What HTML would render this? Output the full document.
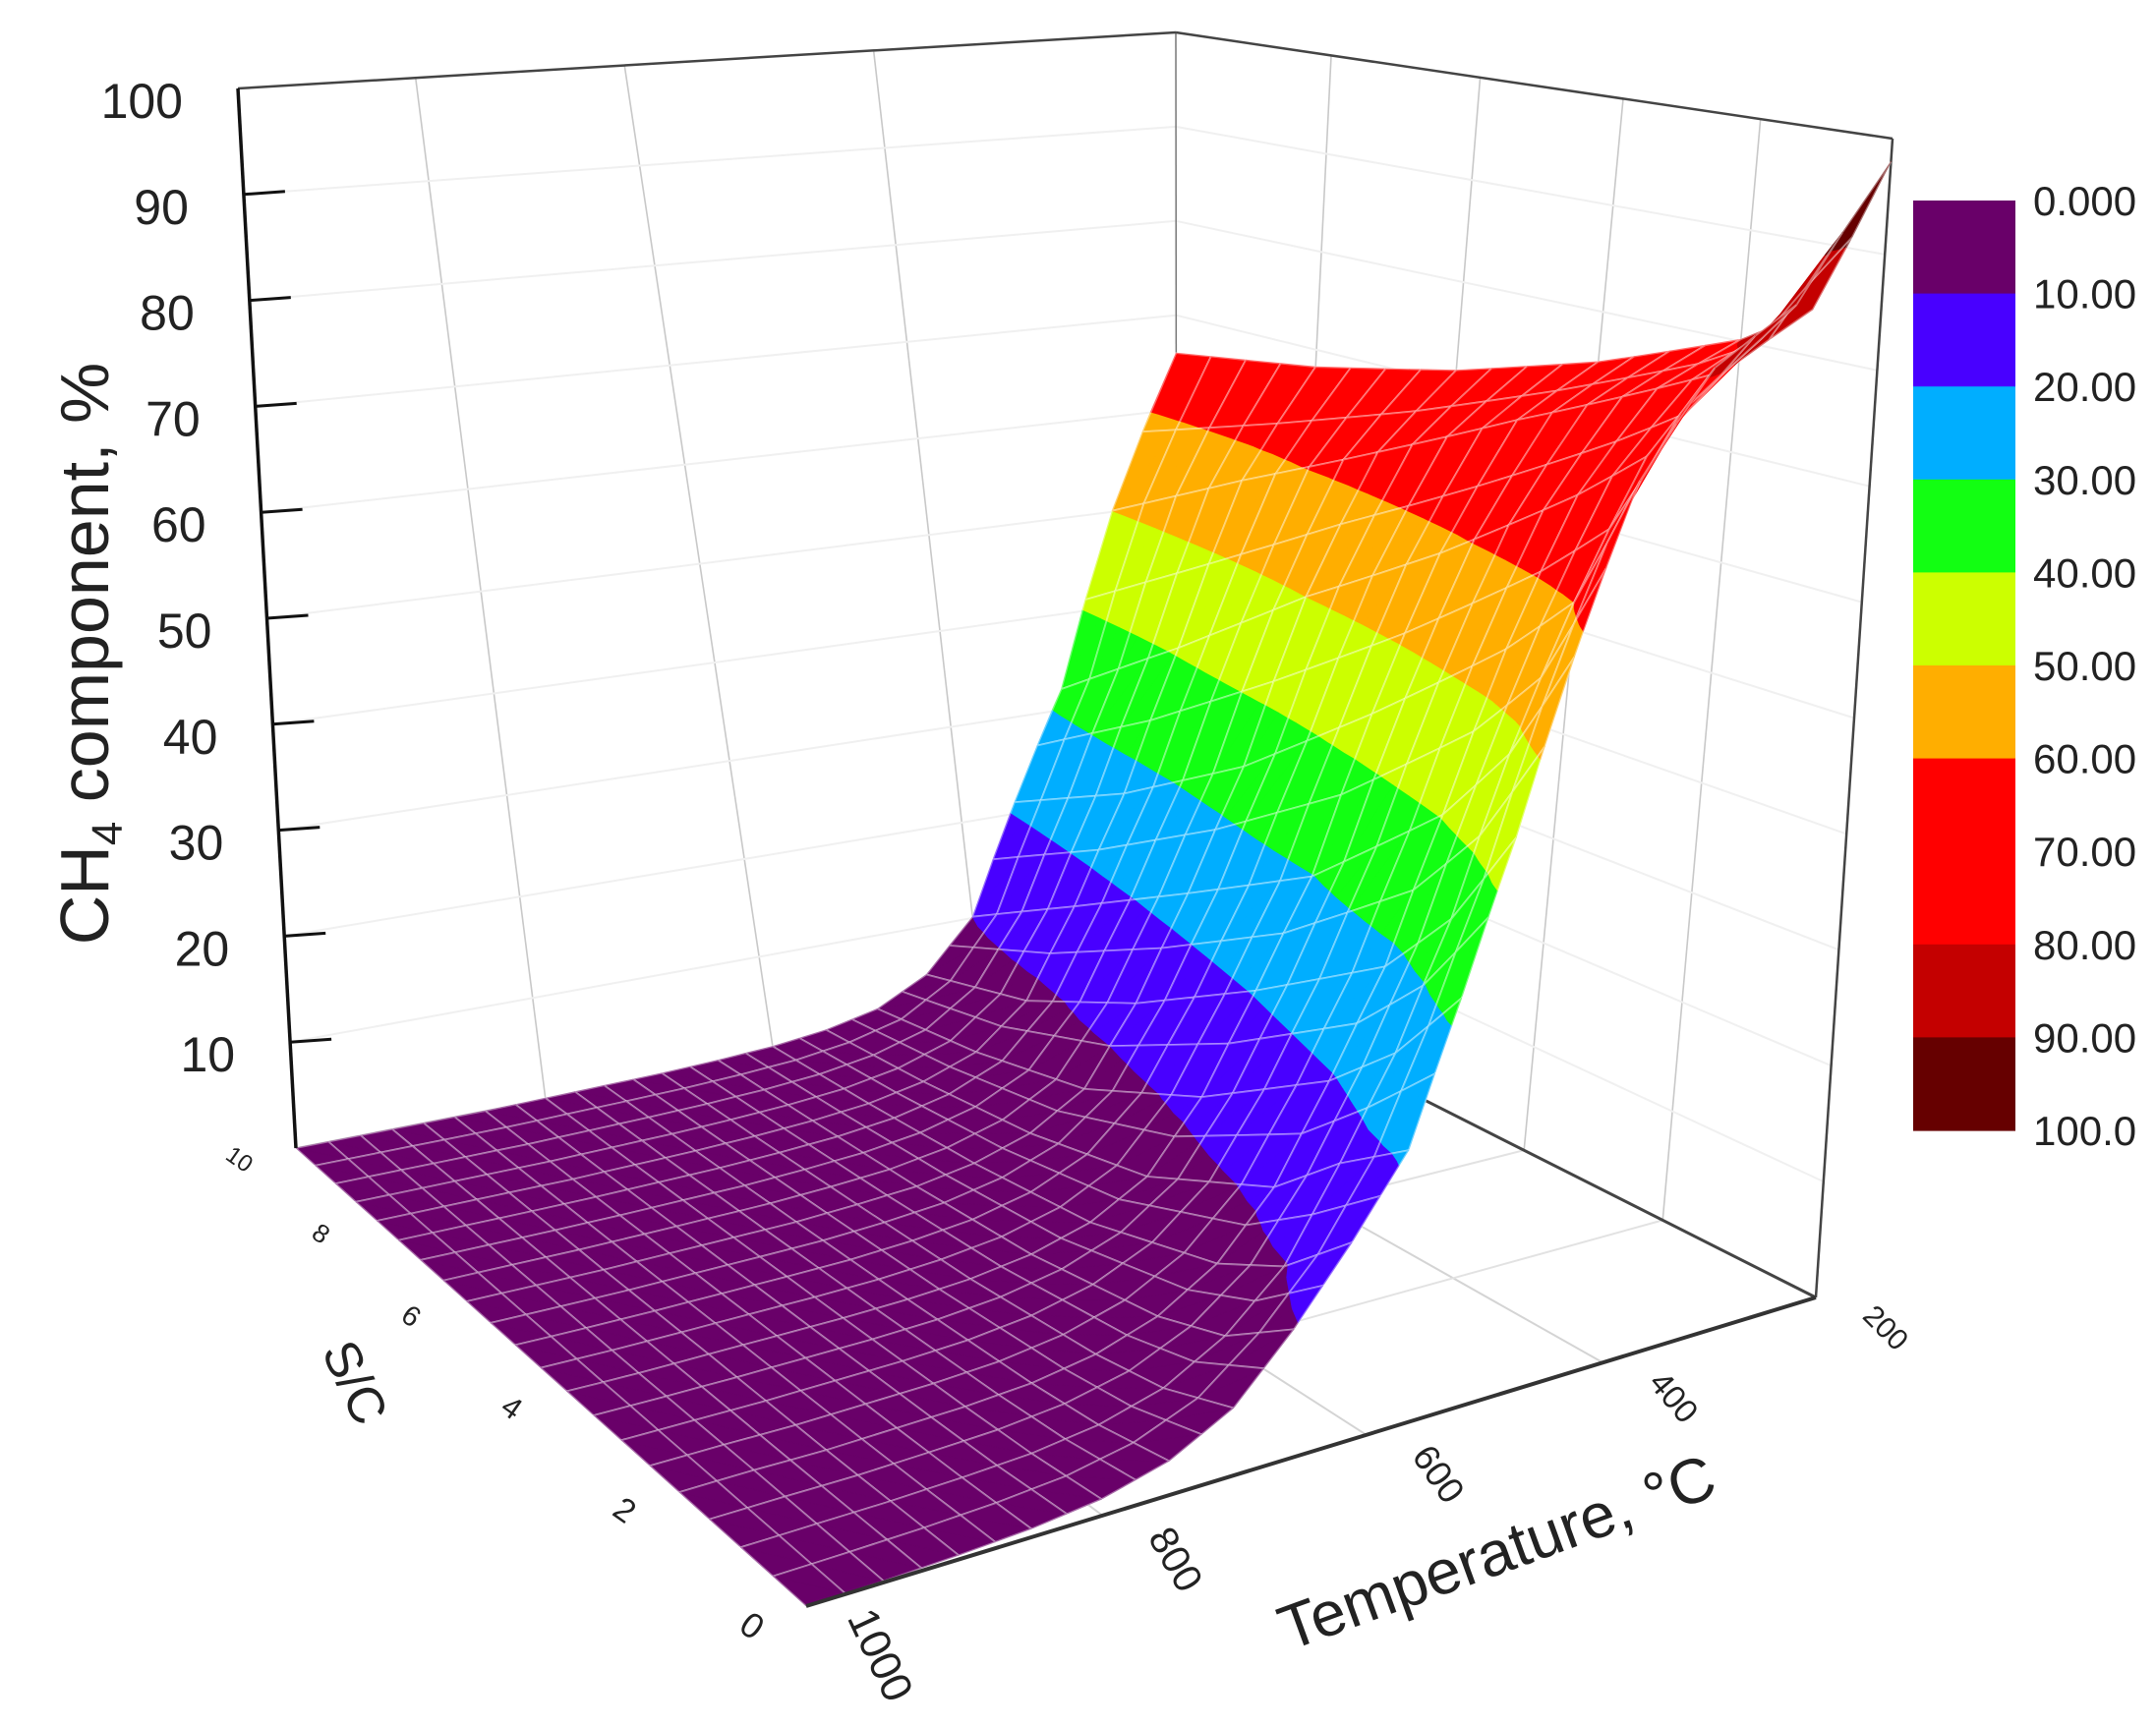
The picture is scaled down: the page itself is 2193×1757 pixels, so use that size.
<!DOCTYPE html>
<html><head><meta charset="utf-8"><style>
html,body{margin:0;padding:0;background:#fff;}
svg{display:block;font-family:"Liberation Sans",sans-serif;}
</style></head><body>
<svg id="chart" xmlns="http://www.w3.org/2000/svg" width="2193" height="1757" viewBox="0 0 2193 1757">
<g id="walls"></g>
<g id="surface"></g>
<g id="box"></g>
<g id="labels"></g>
<g id="colorbar"></g>
</svg>
<script>
// ---- data ----
const temperatures = [200,250,300,350,400,450,500,550,600,650,700,750,800,850,900,950,1000];
const scRows = [0,1,2,4,6,8,10];
const ch4Sc0  = [98,86,81,72,58,44,32,21,15,9.6,5,2.5,1.2,0.6,0.3,0.1,0];
const ch4Sc1  = [84,79,72,60,47.8,34.8,24.7,16.8,9.7,5.5,2.8,1.4,0.7,0.4,0.2,0.1,0];
const ch4Sc2  = [80,76,67,54,40.3,28.1,19.4,11.6,6.5,3.5,1.8,0.9,0.5,0.3,0.1,0.1,0];
const ch4Sc4  = [75,70,58.1,43.9,29.8,20.4,11.9,6,3.2,1.7,0.9,0.5,0.3,0.2,0.1,0,0];
const ch4Sc6  = [71,63.5,50,34.3,23,13.5,6.5,3.5,1.9,1,0.6,0.3,0.2,0.1,0,0,0];
const ch4Sc8  = [68,57,40.7,26.8,16.4,8,4,2.2,1.2,0.7,0.4,0.2,0.1,0,0,0,0];
const ch4Sc10 = [66,50,32,21,10,5,2.5,1.4,0.8,0.5,0.3,0.2,0.1,0,0,0,0];
const zTicks = [10,20,30,40,50,60,70,80,90,100];
const scTicks = [0,2,4,6,8,10];
const tTicks = [200,400,600,800,1000];
const bandEdges = [0,10,20,30,40,50,60,70,80,90,100];
const bandLabels = ["0.000","10.00","20.00","30.00","40.00","50.00","60.00","70.00","80.00","90.00","100.0"];
const bandColors = ["#690069","#4800ff","#00aeff","#12ff12","#ccff00","#ffae00","#ff0000","#ff0000","#c40000","#660000"];

const rows = [ch4Sc0,ch4Sc1,ch4Sc2,ch4Sc4,ch4Sc6,ch4Sc8,ch4Sc10];
const NS = "http://www.w3.org/2000/svg";

// ---- projection ----
function homog(A,C,D,B){
  const [x0,y0]=A,[x1,y1]=C,[x2,y2]=D,[x3,y3]=B;
  const dx1=x1-x2,dx2=x3-x2,dx3=x0-x1+x2-x3,dy1=y1-y2,dy2=y3-y2,dy3=y0-y1+y2-y3;
  const den=dx1*dy2-dx2*dy1;
  const g=(dx3*dy2-dx2*dy3)/den,h=(dx1*dy3-dx3*dy1)/den;
  const a=x1-x0+g*x1,b=x3-x0+h*x3,d=y1-y0+g*y1,e=y3-y0+h*y3;
  return (u,v)=>{const w=g*u+h*v+1;return [(a*u+b*v+x0)/w,(d*u+e*v+y0)/w];};
}
const floorH = homog([820,1634],[1847,1320],[1197,992],[301,1168]);
const topH   = homog([835,164],[1925,141],[1196,33],[242,90]);
function P(T,S,z){
  const u=(1000-T)/800,v=S/10,w=z/100;
  const f=floorH(u,v),t=topH(u,v);
  return [f[0]+w*(t[0]-f[0]), f[1]+w*(t[1]-f[1])];
}
function ch4(T,S){
  let r=0; while(r<scRows.length-2 && S>scRows[r+1]) r++;
  const fs=(S-scRows[r])/(scRows[r+1]-scRows[r]);
  let c=0; while(c<temperatures.length-2 && T>temperatures[c+1]) c++;
  const ft=(T-temperatures[c])/(temperatures[c+1]-temperatures[c]);
  const a=rows[r][c]*(1-ft)+rows[r][c+1]*ft, b=rows[r+1][c]*(1-ft)+rows[r+1][c+1]*ft;
  return a*(1-fs)+b*fs;
}
function mk(tag,attrs,parent){const e=document.createElementNS(NS,tag);for(const k in attrs)e.setAttribute(k,attrs[k]);parent.appendChild(e);return e;}
function line(p,q,st,w,parent){return mk('line',{x1:p[0],y1:p[1],x2:q[0],y2:q[1],stroke:st,'stroke-width':w},parent);}

// ---- walls / floor grid ----
const walls=document.getElementById('walls');
for(const T of [400,600,800]){
  let l=line(P(T,10,0),P(T,10,100),'#c8c8c8',1.6,walls);
  
  
  l=line(P(T,0,0),P(T,10,0),'#d4d4d4',2,walls);
  
  
}
for(const S of [2,4,6,8]){
  let l=line(P(200,S,0),P(200,S,100),'#c8c8c8',1.6,walls);
  
  
  l=line(P(200,S,0),P(1000,S,0),'#e2e2e2',2,walls);
  
  
}
for(const z of zTicks.slice(0,9)){
  let l=line(P(1000,10,z),P(200,10,z),'#f0f0f0',2,walls);
  
  
  l=line(P(200,10,z),P(200,0,z),'#f0f0f0',2,walls);
  
  
}
const backEdges=[
  [P(1000,10,0),P(200,10,0),'#888',1.5,'floor-back-edge'],
  [P(200,10,0),P(200,10,100),'#777',1.5,'back-corner-edge'],
  [P(1000,10,100),P(200,10,100),'#444',2.5,'box-top-back-edge'],
  [P(200,10,100),P(200,0,100),'#444',2.5,'box-top-side-edge'],
  [P(200,0,100),P(200,0,0),'#444',2.5,'box-right-edge'],
  [P(200,0,0),P(200,10,0),'#444',3,'floor-side-edge']
];
for(const e of backEdges){
  const l=line(e[0],e[1],e[2],e[3],walls);
  
  
}

// ---- surface ----
const surf=document.getElementById('surface');
const dT=25,dS=0.5,cells=[];
for(let T=200;T<1000;T+=dT)for(let S=0;S<10-1e-9;S+=dS){
  cells.push({T,S,depth:(S+dS/2)/10+(1000-(T+dT/2))/800});
}
cells.sort((a,b)=>b.depth-a.depth);
function clipZ(poly,lim,above){
  const out=[];
  for(let i=0;i<poly.length;i++){
    const p=poly[i],q=poly[(i+1)%poly.length];
    const pin=above?p[2]>=lim:p[2]<=lim, qin=above?q[2]>=lim:q[2]<=lim;
    if(pin)out.push(p);
    if(pin!==qin){const t=(lim-p[2])/(q[2]-p[2]);out.push([p[0]+t*(q[0]-p[0]),p[1]+t*(q[1]-p[1]),lim]);}
  }
  return out;
}
for(const c of cells){
  const T0=c.T,T1=c.T+dT,S0=c.S,S1=c.S+dS;
  const v=[[T0,S0,ch4(T0,S0)],[T1,S0,ch4(T1,S0)],[T1,S1,ch4(T1,S1)],[T0,S1,ch4(T0,S1)]];
  const tris=[[v[0],v[1],v[2]],[v[0],v[2],v[3]]];
  const g=mk('g',{},surf);
  
  
  for(const tri of tris){
    for(let b=0;b<bandColors.length;b++){
      let poly=clipZ(tri,bandEdges[b],true);
      if(poly.length<3)continue;
      if(b<bandColors.length-1)poly=clipZ(poly,bandEdges[b+1],false);
      if(poly.length<3)continue;
      const pts=poly.map(p=>P(p[0],p[1],p[2]).map(n=>n.toFixed(1)).join(',')).join(' ');
      const pg=mk('polygon',{points:pts,fill:bandColors[b],stroke:bandColors[b],'stroke-width':0.8,'stroke-linejoin':'round'},g);
      
      
    }
  }
  const pts=v.map(p=>P(p[0],p[1],p[2]).map(n=>n.toFixed(1)).join(',')).join(' ');
  const ol=mk('polygon',{points:pts,fill:'none',stroke:'rgba(255,255,255,0.42)','stroke-width':1.8},g);
  
  
}

// ---- front box edges & ticks ----
const box=document.getElementById('box');
const frontEdges=[
  [P(1000,10,0),P(1000,10,100),'#111',3.5,'z-axis-line'],
  [P(200,0,0),P(1000,0,0),'#333',4,'temperature-axis-line']
];
for(const e of frontEdges){
  const l=line(e[0],e[1],e[2],e[3],box);
  
  
}
const labels=document.getElementById('labels');
function txt(s,x,y,size,anchor,rot,parent){
  const t=mk('text',{x:x,y:y,'font-size':size,'text-anchor':anchor,fill:'#222'},parent);
  if(rot)t.setAttribute('transform',`rotate(${rot} ${x} ${y})`);
  t.textContent=s;return t;
}
for(const z of zTicks){
  const p=P(1000,10,z);
  if(z<100){
    const tk=line(p,[p[0]+42,p[1]-3],'#111',3,box);
    
    
  }
  const t=txt(String(z),p[0]-56,p[1]+30,50,'end',0,labels);
  
  
}
for(const s of scTicks){
  const p=P(1000,s,0),k=1-s/10;
  const t=txt(String(s),p[0]-62,p[1]+18+12*k,24+12*k,'middle',35,labels);
  
  
}
for(const T of tTicks){
  const p=P(T,0,0),k=(1000-T)/800;
  const t=txt(String(T),p[0]+64-2*(1-k),p[1]+38+18*(1-k),44-14*k,'middle',65-20*k,labels);
  
  
}
const yt=mk('text',{x:0,y:0,'font-size':70,'text-anchor':'middle',fill:'#222',transform:'translate(110 665) rotate(-90)'},labels);


yt.innerHTML='CH<tspan font-size="44" dy="14">4</tspan><tspan dy="-14"> component, %</tspan>';
const st=txt('S/C',345,1414,52,'middle',65,labels);


const tt=txt('Temperature, °C',1530,1600,64,'middle',-20,labels);



// ---- colorbar ----
const cb=document.getElementById('colorbar');
const cbTop=204,cbBot=1150,cbX=1946,cbW=104,bh=(cbBot-cbTop)/bandColors.length;
for(let i=0;i<bandColors.length;i++){
  const r=mk('rect',{x:cbX,y:(cbTop+i*bh).toFixed(1),width:cbW,height:(bh+0.6).toFixed(1),fill:bandColors[i]},cb);
  
  
}
for(let i=0;i<bandLabels.length;i++){
  const t=txt(bandLabels[i],2068,cbTop+i*bh+15,42,'start',0,cb);
  
  
}
</script>
</body></html>
